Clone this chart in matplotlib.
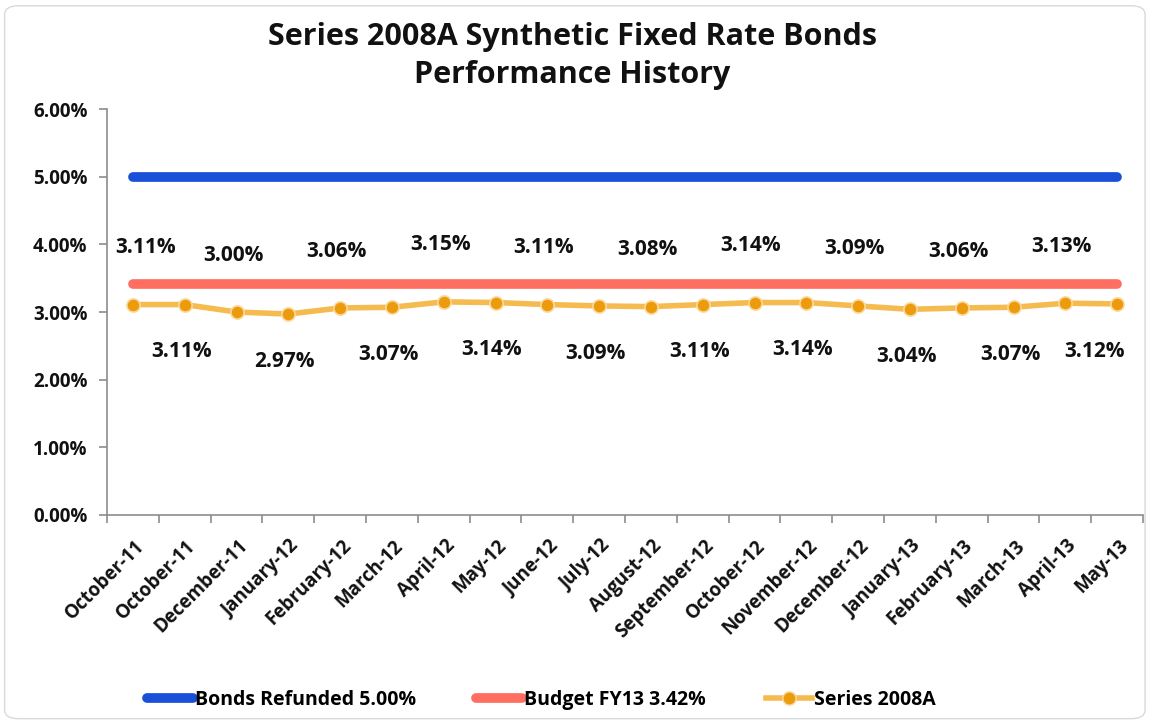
import matplotlib
matplotlib.use("Agg")
import matplotlib.pyplot as plt
from matplotlib.patches import FancyBboxPatch
from matplotlib.lines import Line2D
import matplotlib.transforms as mtransforms

plt.rcParams['font.family'] = ['Open Sans', 'DejaVu Sans']

months = ["October-11", "October-11", "December-11", "January-12", "February-12",
          "March-12", "April-12", "May-12", "June-12", "July-12", "August-12",
          "September-12", "October-12", "November-12", "December-12", "January-13",
          "February-13", "March-13", "April-13", "May-13"]
series_2008a = [3.11, 3.11, 3.00, 2.97, 3.06, 3.07, 3.15, 3.14, 3.11, 3.09, 3.08,
                3.11, 3.14, 3.14, 3.09, 3.04, 3.06, 3.07, 3.13, 3.12]
bonds_refunded = 5.00
budget_fy13 = 3.42
y_ticks = [0, 1, 2, 3, 4, 5, 6]

fig = plt.figure(figsize=(11.52, 7.23), dpi=100)
fig.patch.set_facecolor("white")

# rounded frame around the chart
frame = FancyBboxPatch((0.004, 0.006), 0.99, 0.986, boxstyle="round,pad=0,rounding_size=0.012",
                       transform=fig.transFigure, facecolor="white", edgecolor="#d9d9d9",
                       linewidth=1.0, zorder=-5)
fig.patches.append(frame)

ax = fig.add_axes([0.0929, 0.2877, 0.8993, 0.5615])
ax.set_facecolor("none")
ax.set_zorder(2)

x = list(range(len(months)))
ax.plot(x, [bonds_refunded] * len(x), color="#1a4fd8", linewidth=7, solid_capstyle="round", zorder=3)
ax.plot(x, [budget_fy13] * len(x), color="#ff6f61", linewidth=7, solid_capstyle="round", zorder=3)
ax.plot(x, series_2008a, color="#f6bb4f", linewidth=4, solid_capstyle="round", zorder=4,
        marker="o", markersize=9.5, markerfacecolor="#eb9b0c", markeredgecolor="#fbd9a0",
        markeredgewidth=1.2)

# value labels alternate above and below the series line;
# the end labels are pulled inward so they stay inside the frame
edge_nudge = {0: 9.0, len(series_2008a) - 1: -16.0}
for i, v in enumerate(series_2008a):
    dy = 41 if i % 2 == 0 else -34
    dx = edge_nudge.get(i, -2.5)
    ax.annotate(f"{v:.2f}%", (i, v), xytext=(dx, dy), textcoords="offset points",
                ha="center", va="center", fontsize=15, fontweight="bold", color="#111111",
                zorder=5)

ax.set_xlim(-0.5, len(months) - 0.5)
ax.set_ylim(0, 6)
ax.set_yticks(y_ticks)
ax.set_yticklabels([f"{t:.2f}%" for t in y_ticks], fontsize=13.5, fontweight="bold", color="#111111")
ax.set_xticks([i - 0.5 for i in range(len(months) + 1)])
ax.set_xticklabels([])
ax.set_xticks(x, minor=True)
ax.set_xticklabels(months, minor=True, rotation=45, ha="right", rotation_mode="anchor",
                   fontsize=13.5, fontweight="bold", color="#111111")
ax.tick_params(axis="x", which="minor", length=0, pad=15)
ax.tick_params(axis="x", which="major", length=6, color="#8c8c8c", width=1.2)
ax.tick_params(axis="y", length=6, color="#8c8c8c", width=1.2, pad=8)

offset = mtransforms.ScaledTranslation(1 / 100, 0, fig.dpi_scale_trans)
for lbl in ax.get_xticklabels(minor=True):
    lbl.set_transform(lbl.get_transform() + offset)

for side in ["top", "right"]:
    ax.spines[side].set_visible(False)
for side in ["left", "bottom"]:
    ax.spines[side].set_color("#8c8c8c")
    ax.spines[side].set_linewidth(1.2)

fig.text(0.497, 0.922, "Series 2008A Synthetic Fixed Rate Bonds\nPerformance History",
         ha="center", va="center", fontsize=22, fontweight="bold", color="#111111",
         linespacing=1.35)

handles = [
    Line2D([], [], color="#1a4fd8", linewidth=7, solid_capstyle="round"),
    Line2D([], [], color="#ff6f61", linewidth=7, solid_capstyle="round"),
    Line2D([], [], color="#f6bb4f", linewidth=4, marker="o", markersize=9.5,
           markerfacecolor="#eb9b0c", markeredgecolor="#fbd9a0"),
]
labels = [f"Bonds Refunded {bonds_refunded:.2f}%", f"Budget FY13 {budget_fy13:.2f}%", "Series 2008A"]
fig.legend(handles, labels, loc="center", bbox_to_anchor=(0.47, 0.032), ncol=3, frameon=False,
           prop={"weight": "bold", "size": 14}, handlelength=2.35, handletextpad=0.1,
           columnspacing=3.1)

fig.savefig("out.png", dpi=100, facecolor="white")
